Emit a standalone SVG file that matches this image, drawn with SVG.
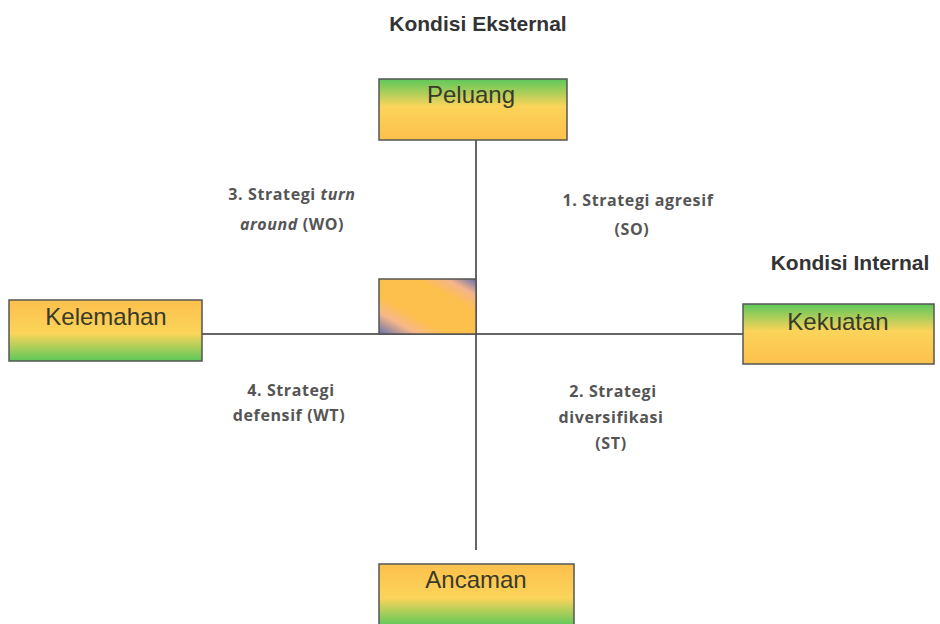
<svg xmlns="http://www.w3.org/2000/svg" width="940" height="624" viewBox="0 0 940 624">
<defs>
<linearGradient id="gTop" x1="0" y1="0" x2="0" y2="1">
<stop offset="0" stop-color="#5cc85a"/>
<stop offset="0.45" stop-color="#fbd45a"/>
<stop offset="1" stop-color="#fdc04c"/>
</linearGradient>
<linearGradient id="gBot" x1="0" y1="0" x2="0" y2="1">
<stop offset="0" stop-color="#fdc04c"/>
<stop offset="0.55" stop-color="#fbd45a"/>
<stop offset="1" stop-color="#5cc85a"/>
</linearGradient>
<linearGradient id="gMid" x1="0" y1="1" x2="1" y2="0">
<stop offset="0" stop-color="#6470a8"/>
<stop offset="0.2" stop-color="#f8b888"/>
<stop offset="0.35" stop-color="#fdc04c"/>
<stop offset="0.7" stop-color="#fdc04c"/>
<stop offset="0.85" stop-color="#f4b48c"/>
<stop offset="1" stop-color="#6470a8"/>
</linearGradient>
<style>
.box{stroke:#555;stroke-width:1.5}
.lbl{font-family:"Liberation Sans",Arial,sans-serif;font-size:24px;fill:#3a3a2a;text-anchor:middle}
.ttl{font-family:"Liberation Sans",Arial,sans-serif;font-size:21px;font-weight:bold;fill:#333;text-anchor:middle}
.q{font-family:"Open Sans","Liberation Sans",sans-serif;font-size:16px;font-weight:bold;fill:#555;text-anchor:middle;letter-spacing:0.6px}
.ln{stroke:#333;stroke-width:1.5;fill:none}
</style>
</defs>
<text class="ttl" x="478" y="31">Kondisi Eksternal</text>
<text class="ttl" x="850" y="270">Kondisi Internal</text>
<g id="connectors">
<line class="ln" x1="476" y1="140" x2="476" y2="550"/>
<line class="ln" x1="202" y1="334" x2="743" y2="334"/>
</g>
<g id="center">
<rect class="box" x="379" y="279" width="97" height="55" fill="url(#gMid)"/>
</g>
<g id="peluang">
<rect class="box" x="379" y="79" width="188" height="61" fill="url(#gTop)"/>
<text class="lbl" x="471" y="103">Peluang</text>
</g>
<g id="kelemahan">
<rect class="box" x="9" y="300" width="193" height="61" fill="url(#gBot)"/>
<text class="lbl" x="106" y="325">Kelemahan</text>
</g>
<g id="kekuatan">
<rect class="box" x="743" y="304" width="191" height="60" fill="url(#gTop)"/>
<text class="lbl" x="838" y="330">Kekuatan</text>
</g>
<g id="ancaman">
<rect class="box" x="379" y="564" width="195" height="62" fill="url(#gBot)"/>
<text class="lbl" x="476" y="588">Ancaman</text>
</g>
<g id="q3">
<text class="q" x="292" y="200">3. Strategi <tspan font-style="italic">turn</tspan></text>
<text class="q" x="292" y="230"><tspan font-style="italic">around</tspan> (WO)</text>
</g>
<g id="q1">
<text class="q" x="638" y="206">1. Strategi agresif</text>
<text class="q" x="632" y="235">(SO)</text>
</g>
<g id="q4">
<text class="q" x="291" y="396">4. Strategi</text>
<text class="q" x="289" y="421">defensif (WT)</text>
</g>
<g id="q2">
<text class="q" x="613" y="397">2. Strategi</text>
<text class="q" x="611" y="423">diversifikasi</text>
<text class="q" x="611" y="449">(ST)</text>
</g>
</svg>
